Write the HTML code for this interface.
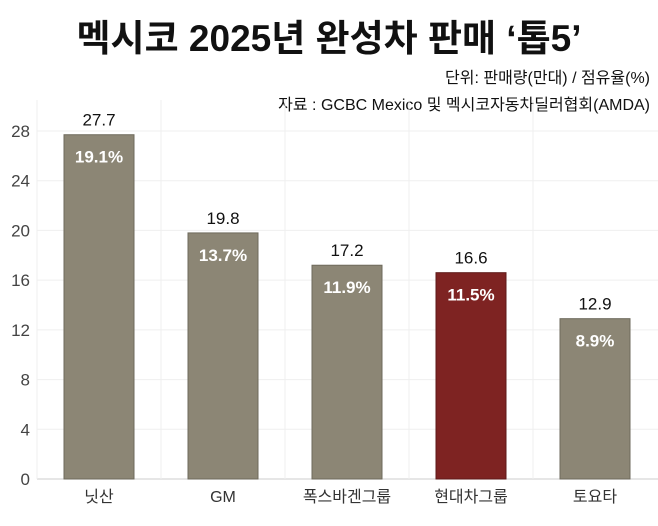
<!DOCTYPE html>
<html><head><meta charset="utf-8"><style>
body{margin:0;background:#fff;font-family:"Liberation Sans","Noto Sans CJK KR",sans-serif}
#w{position:relative;width:658px;height:526px;overflow:hidden}
.t{position:absolute;white-space:nowrap}
</style></head><body><div id="w">
<div class="t" style="left:0;width:658px;text-align:center;top:8px;font-size:37px;font-weight:bold;color:#111">멕시코 2025년 완성차 판매 ‘톱5’</div>
<div class="t" style="right:8px;top:64px;font-size:16px;color:#111">단위: 판매량(만대) / 점유율(%)</div>
<div class="t" style="right:8px;top:91px;font-size:16px;color:#111">자료 :  GCBC Mexico 및 멕시코자동차딜러협회(AMDA)</div>
<svg id="s" width="658" height="526" style="position:absolute;left:0;top:0"></svg>
</div>
<script>
const categories=["닛산","GM","폭스바겐그룹","현대차그룹","토요타"];
const sales=[27.7,19.8,17.2,16.6,12.9];
const shares=["19.1%","13.7%","11.9%","11.5%","8.9%"];
const ticks=[0,4,8,12,16,20,24,28];
const ns="http://www.w3.org/2000/svg",s=document.getElementById("s");
const y=v=>479-v*348/28, x=i=>99+i*124;
function mk(t,a,txt){const e=document.createElementNS(ns,t);for(const k in a)e.setAttribute(k,a[k]);if(txt!=null)e.textContent=txt;s.appendChild(e);return e;}
ticks.forEach(v=>{
 const l=mk("line",{x1:37,x2:658,y1:y(v),y2:y(v),stroke:v==0?"#ccc":"#efefef"});
 
 
 const t=mk("text",{x:30,y:y(v)+6,"text-anchor":"end","font-size":17,fill:"#444"},v);
 
 
});
for(let i=0;i<=4;i++){const l=mk("line",{x1:37+i*124,x2:37+i*124,y1:100,y2:479,stroke:"#efefef"});
 
 }
categories.forEach((c,i)=>{
 const b=mk("rect",{x:x(i)-35,y:y(sales[i]),width:70,height:479-y(sales[i]),fill:i==3?"#7e2322":"#8c8675",stroke:i==3?"#5e1a19":"#6e6a5c"});
 
 
 const v=mk("text",{x:x(i),y:y(sales[i])-9,"text-anchor":"middle","font-size":17,fill:"#111"},sales[i]);
 
 
 const p=mk("text",{x:x(i),y:y(sales[i])+28,"text-anchor":"middle","font-size":17,"font-weight":"bold",fill:"#fff"},shares[i]);
 
 
 const cl=mk("text",{x:x(i),y:502,"text-anchor":"middle","font-size":16,fill:"#333"},c);
 
 
});
</script></body></html>
